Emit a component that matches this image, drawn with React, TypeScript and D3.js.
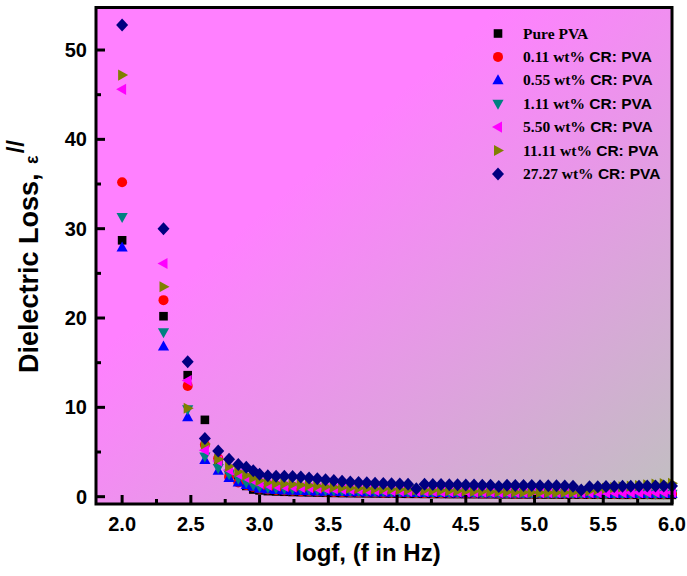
import React from "react";
import * as d3 from "d3";

const logf = [2.0, 2.301, 2.477, 2.602, 2.699, 2.778, 2.845, 2.903, 2.954, 3.0,
  3.06, 3.12, 3.18, 3.24, 3.30, 3.36, 3.42, 3.48, 3.54, 3.60,
  3.66, 3.72, 3.78, 3.84, 3.90, 3.96, 4.02, 4.08, 4.14, 4.20,
  4.26, 4.32, 4.38, 4.44, 4.50, 4.56, 4.62, 4.68, 4.74, 4.80,
  4.86, 4.92, 4.98, 5.04, 5.10, 5.16, 5.22, 5.28, 5.34, 5.40,
  5.46, 5.52, 5.58, 5.64, 5.70, 5.76, 5.82, 5.88, 5.94, 6.0];

const purePVA = [28.7, 20.2, 13.6, 8.6, 4.0, 2.6, 1.8, 1.2, 0.8, 0.7,
  0.62, 0.58, 0.55, 0.52, 0.5, 0.48, 0.46, 0.44, 0.42, 0.4,
  0.39, 0.38, 0.37, 0.36, 0.35, 0.34, 0.33, 0.32, 0.32, 0.31,
  0.3, 0.3, 0.29, 0.29, 0.28, 0.28, 0.27, 0.27, 0.26, 0.26,
  0.25, 0.25, 0.25, 0.24, 0.24, 0.24, 0.23, 0.23, 0.23, 0.22,
  0.22, 0.22, 0.22, 0.21, 0.21, 0.21, 0.21, 0.2, 0.2, 0.2];

const cr011 = [35.2, 22.0, 12.4, 5.8, 4.3, 2.2, 1.6, 1.3, 1.1, 0.9,
  0.8, 0.75, 0.7, 0.66, 0.62, 0.6, 0.57, 0.55, 0.53, 0.51,
  0.5, 0.48, 0.47, 0.46, 0.45, 0.44, 0.43, 0.42, 0.41, 0.4,
  0.4, 0.39, 0.38, 0.38, 0.37, 0.37, 0.36, 0.36, 0.35, 0.35,
  0.34, 0.34, 0.33, 0.33, 0.33, 0.32, 0.32, 0.32, 0.31, 0.31,
  0.31, 0.3, 0.3, 0.3, 0.3, 0.3, 0.3, 0.3, 0.3, 0.3];

const cr055 = [27.9, 16.8, 8.9, 4.1, 2.9, 2.1, 1.6, 1.3, 1.1, 0.9,
  0.8, 0.75, 0.7, 0.67, 0.64, 0.61, 0.58, 0.56, 0.54, 0.52,
  0.5, 0.49, 0.48, 0.47, 0.46, 0.45, 0.44, 0.43, 0.42, 0.41,
  0.4, 0.4, 0.39, 0.38, 0.38, 0.37, 0.37, 0.36, 0.36, 0.35,
  0.35, 0.34, 0.34, 0.34, 0.33, 0.33, 0.33, 0.32, 0.32, 0.32,
  0.32, 0.31, 0.31, 0.31, 0.31, 0.3, 0.3, 0.3, 0.3, 0.3];

const cr111 = [31.3, 18.4, 9.8, 4.5, 3.2, 2.5, 2.0, 1.6, 1.3, 1.1,
  1.0, 0.95, 0.9, 0.86, 0.82, 0.78, 0.75, 0.72, 0.69, 0.66,
  0.64, 0.62, 0.6, 0.58, 0.57, 0.56, 0.54, 0.53, 0.52, 0.51,
  0.5, 0.49, 0.48, 0.47, 0.46, 0.45, 0.44, 0.44, 0.43, 0.42,
  0.42, 0.41, 0.4, 0.4, 0.39, 0.39, 0.38, 0.38, 0.37, 0.37,
  0.36, 0.36, 0.35, 0.35, 0.35, 0.34, 0.34, 0.34, 0.33, 0.33];

const cr550 = [45.6, 26.1, 13.0, 5.2, 4.0, 3.0, 2.5, 2.1, 1.8, 1.5,
  1.3, 1.2, 1.15, 1.1, 1.05, 1.0, 0.95, 0.9, 0.86, 0.82,
  0.79, 0.76, 0.73, 0.7, 0.68, 0.66, 0.64, 0.62, 0.6, 0.59,
  0.58, 0.56, 0.55, 0.54, 0.53, 0.52, 0.51, 0.5, 0.49, 0.48,
  0.48, 0.47, 0.46, 0.46, 0.45, 0.45, 0.44, 0.44, 0.44, 0.44,
  0.44, 0.45, 0.45, 0.45, 0.46, 0.46, 0.47, 0.47, 0.48, 0.48];

const cr1111 = [47.2, 23.5, 9.9, 5.9, 4.2, 3.4, 2.8, 2.4, 2.1, 1.8,
  1.6, 1.5, 1.45, 1.4, 1.32, 1.26, 1.2, 1.12, 1.06, 1.0,
  0.96, 0.93, 0.9, 0.87, 0.85, 0.82, 0.8, 0.77, 0.75, 0.72,
  0.7, 0.68, 0.66, 0.64, 0.62, 0.6, 0.58, 0.56, 0.54, 0.52,
  0.5, 0.49, 0.48, 0.47, 0.46, 0.46, 0.47, 0.48, 0.52, 0.65,
  0.8, 0.92, 1.02, 1.1, 1.18, 1.25, 1.32, 1.4, 1.45, 1.5];

const cr2727 = [52.8, 30.0, 15.1, 6.5, 5.1, 4.2, 3.6, 3.3, 2.9, 2.5,
  2.35, 2.3, 2.28, 2.25, 2.2, 2.1, 2.0, 1.9, 1.8, 1.72,
  1.65, 1.6, 1.55, 1.5, 1.47, 1.44, 1.42, 1.4, 0.9, 1.38,
  1.36, 1.35, 1.34, 1.33, 1.32, 1.3, 1.29, 1.28, 1.15, 1.27,
  1.26, 1.25, 1.24, 1.23, 1.22, 1.21, 1.2, 1.18, 0.75, 1.1,
  1.12, 1.14, 1.15, 1.16, 1.17, 1.18, 1.19, 1.2, 1.2, 1.2];

const seriesValues = [purePVA, cr011, cr055, cr111, cr550, cr1111, cr2727];
const seriesNumbers = ["Pure PVA", "0.11 wt%", "0.55 wt%", "1.11 wt%", "5.50 wt%", "11.11 wt%", "27.27 wt%"];
const seriesSuffix = ["", " CR: PVA", " CR: PVA", " CR: PVA", " CR: PVA", " CR: PVA", " CR: PVA"];
const seriesColors = ["#000000", "#ff0000", "#0000ff", "#008080", "#ff00ff", "#808000", "#000080"];
const seriesShapes = ["square", "circle", "up", "down", "left", "right", "diamond"];

const xTicks = [2.0, 2.5, 3.0, 3.5, 4.0, 4.5, 5.0, 5.5, 6.0];
const xMinor = [2.25, 2.75, 3.25, 3.75, 4.25, 4.75, 5.25, 5.75];
const yTicks = [0, 10, 20, 30, 40, 50];
const yMinor = [5, 15, 25, 35, 45];

const W = 687, H = 576;
const L = 96, R = 672, T = 7.5, B = 504;

function Marker({ shape, color, x, y }: { shape: string; color: string; x: number; y: number }) {
  const t = `translate(${x},${y})`;
  switch (shape) {
    case "square":
      return <rect x={x - 4.3} y={y - 4.3} width={8.6} height={8.6} fill={color} />;
    case "circle":
      return <circle cx={x} cy={y} r={5} fill={color} />;
    case "up":
      return <path transform={t} d="M0,-6L5.6,4L-5.6,4Z" fill={color} />;
    case "down":
      return <path transform={t} d="M0,6L5.6,-4L-5.6,-4Z" fill={color} />;
    case "left":
      return <path transform={t} d="M-6,0L4,-5.6L4,5.6Z" fill={color} />;
    case "right":
      return <path transform={t} d="M6,0L-4,-5.6L-4,5.6Z" fill={color} />;
    default:
      return <path transform={t} d="M0,-6.5L6,0L0,6.5L-6,0Z" fill={color} />;
  }
}

export default function App() {
  const x = d3.scaleLinear().domain([1.81, 6.0]).range([L, R]);
  const y = d3.scaleLinear().domain([-0.82, 54.76]).range([B, T]);
  const sans = "'Liberation Sans', Arial, sans-serif";
  const serif = "'Liberation Serif', 'Times New Roman', serif";

  return (
    <svg width={W} height={H} style={{ position: "absolute", left: 0, top: 0, background: "#fff" }}>
      <defs>
        <linearGradient id="bg" x1="0.35" y1="0.35" x2="1" y2="1">
          <stop offset="0" stopColor="#ff80ff" />
          <stop offset="1" stopColor="#c0c0c0" />
        </linearGradient>
      </defs>
      <rect x={L} y={T} width={R - L} height={B - T} fill="url(#bg)" />

      {seriesValues.map((vals, si) => (
        <g key={si}>
          {vals.map((v, i) => (
            <Marker key={i} shape={seriesShapes[si]} color={seriesColors[si]} x={x(logf[i])} y={y(v)} />
          ))}
        </g>
      ))}

      {xTicks.map((t) => (
        <line key={"xt" + t} x1={x(t)} x2={x(t)} y1={B} y2={B - 9} stroke="#000" strokeWidth={3} />
      ))}
      {xMinor.map((t) => (
        <line key={"xm" + t} x1={x(t)} x2={x(t)} y1={B} y2={B - 5} stroke="#000" strokeWidth={3} />
      ))}
      {yTicks.map((t) => (
        <line key={"yt" + t} x1={L} x2={L + 9} y1={y(t)} y2={y(t)} stroke="#000" strokeWidth={3} />
      ))}
      {yMinor.map((t) => (
        <line key={"ym" + t} x1={L} x2={L + 5} y1={y(t)} y2={y(t)} stroke="#000" strokeWidth={3} />
      ))}
      <rect x={L} y={T} width={R - L} height={B - T} fill="none" stroke="#000" strokeWidth={3} />

      {xTicks.map((t) => (
        <text key={"xl" + t} x={x(t)} y={531} textAnchor="middle" fontFamily={sans} fontWeight="bold" fontSize={20}>
          {d3.format(".1f")(t)}
        </text>
      ))}
      {yTicks.map((t) => (
        <text key={"yl" + t} x={87} y={y(t) + 7} textAnchor="end" fontFamily={sans} fontWeight="bold" fontSize={20}>
          {t}
        </text>
      ))}

      <text x={368} y={561} textAnchor="middle" fontFamily={sans} fontWeight="bold" fontSize={24}>
        logf, (f in Hz)
      </text>
      <text transform="translate(38,373) rotate(-90)" fontFamily={sans} fontWeight="bold" fontSize={27}>
        Dielectric Loss, <tspan fontSize={18} dx={2}>ε</tspan>
        <tspan fontSize={24} dy={-14} dx={2}>//</tspan>
      </text>

      {seriesNumbers.map((n, i) => {
        const ly = 33.5 + i * 23.4;
        return (
          <g key={"lg" + i}>
            <Marker shape={seriesShapes[i]} color={seriesColors[i]} x={498} y={ly} />
            <text x={523} y={ly + 5} fontWeight="bold" fontSize={15.5}>
              <tspan fontFamily={serif}>{n}</tspan>
              <tspan fontFamily={sans}>{seriesSuffix[i]}</tspan>
            </text>
          </g>
        );
      })}
    </svg>
  );
}
